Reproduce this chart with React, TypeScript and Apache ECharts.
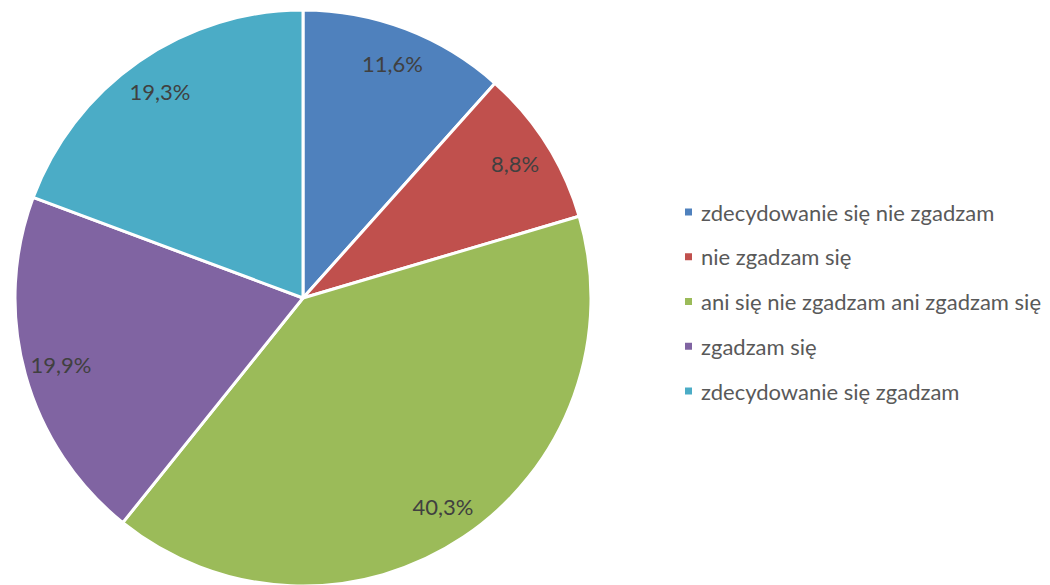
import React, { useEffect, useRef } from "react";
import * as echarts from "echarts";

const categories = [
  "zdecydowanie się nie zgadzam",
  "nie zgadzam się",
  "ani się nie zgadzam ani zgadzam się",
  "zgadzam się",
  "zdecydowanie się zgadzam",
];
const values = [11.6, 8.8, 40.3, 19.9, 19.3];
const colors = ["#4F81BD", "#C0504D", "#9BBB59", "#8064A2", "#4BACC6"];

export default function App() {
  const ref = useRef<HTMLDivElement>(null);
  useEffect(() => {
    document.body.style.margin = "0";
    const chart = echarts.init(ref.current!, null, { renderer: "svg" });
    const data = categories.map((name, i) => ({
      name,
      value: values[i],
      itemStyle: { color: colors[i] },
    }));
    chart.setOption({
      animation: false,
      backgroundColor: "#ffffff",
      legend: {
        orient: "vertical",
        left: 683,
        top: 200,
        padding: 0,
        icon: "rect",
        itemWidth: 9,
        itemHeight: 9,
        itemGap: 20.75,
        data: categories,
        textStyle: {
          fontFamily: "Lato",
          fontSize: 22,
          color: "#595959",
          lineHeight: 24,
          padding: [0, 0, 0, 3],
        },
      },
      series: [
        {
          type: "pie",
          center: [303, 298],
          radius: [0, 288],
          startAngle: 90,
          clockwise: true,
          silent: true,
          itemStyle: { borderColor: "#ffffff", borderWidth: 3 },
          label: { show: false },
          labelLine: { show: false },
          data,
        },
        {
          type: "pie",
          center: [303, 298],
          radius: [200, 296],
          startAngle: 90,
          clockwise: true,
          silent: true,
          legendHoverLink: false,
          itemStyle: { color: "transparent", borderWidth: 0 },
          label: {
            show: true,
            position: "inside",
            fontFamily: "Lato",
            fontSize: 22,
            color: "#404040",
            formatter: (p: any) => p.value.toFixed(1).replace(".", ",") + "%",
          },
          labelLine: { show: false },
          data: categories.map((name, i) => ({ name: name + " ", value: values[i] })),
        },
      ],
    });
    return () => chart.dispose();
  }, []);
  return <div ref={ref} style={{ width: 1050, height: 585 }} />;
}
